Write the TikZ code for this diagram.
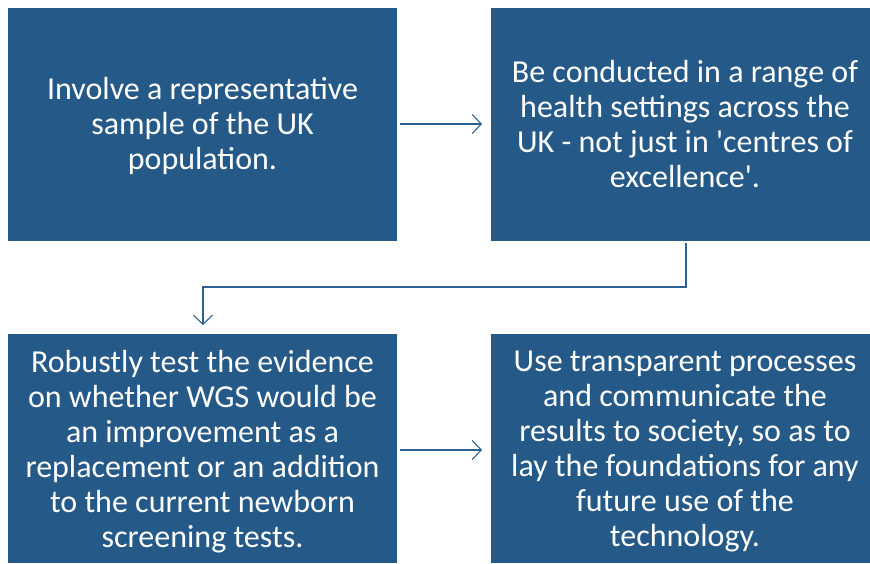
\documentclass[tikz,border=0pt]{standalone}
\usepackage{fontspec}
\setmainfont{Carlito}
\usetikzlibrary{arrows.meta}
\definecolor{boxblue}{RGB}{37,89,136}
\definecolor{lineblue}{RGB}{46,96,146}
\tikzset{
  card/.style={fill=boxblue, draw=none},
  cardtext/.style={text=white, align=center, font=\fontsize{32}{35}\selectfont, inner sep=0pt},
  link/.style={draw=lineblue, line width=1.1pt, -{Straight Barb[length=9pt, width=19pt, line width=1.1pt]}}
}
\begin{document}
\begin{tikzpicture}[x=1pt, y=-1pt]
\useasboundingbox (0,0) rectangle (870,563);
\fill[card] (8,8) rectangle (397,241);
\fill[card] (491,8) rectangle (870,241);
\fill[card] (8,334) rectangle (397,563);
\fill[card] (491,334) rectangle (870,563);
\node[cardtext] (a) at (202.5,125.5) {Involve a representative\\sample of the UK\\population.};
\node[cardtext] (b) at (685,124.5) {Be conducted in a range of\\health settings across the\\UK - not just in \textquotesingle centres of\\excellence\textquotesingle.};
\node[cardtext] (c) at (202.5,452) {Robustly test the evidence\\on whether WGS would be\\an improvement as a\\replacement or an addition\\to the current newborn\\screening tests.};
\node[cardtext] (d) at (685,451.5) {Use transparent processes\\and communicate the\\results to society, so as to\\lay the foundations for any\\future use of the\\technology.};
\coordinate (a1) at (400,124);
\coordinate (b1) at (482,124);
\coordinate (c1) at (400,450);
\coordinate (d1) at (482,450);
\coordinate (bs) at (686,243);
\coordinate (ct) at (203,325);
\draw[link] (a1) -- (b1);
\draw[link] (c1) -- (d1);
\draw[link] (bs) -- (686,287) -- (203,287) -- (ct);
\end{tikzpicture}
\end{document}
